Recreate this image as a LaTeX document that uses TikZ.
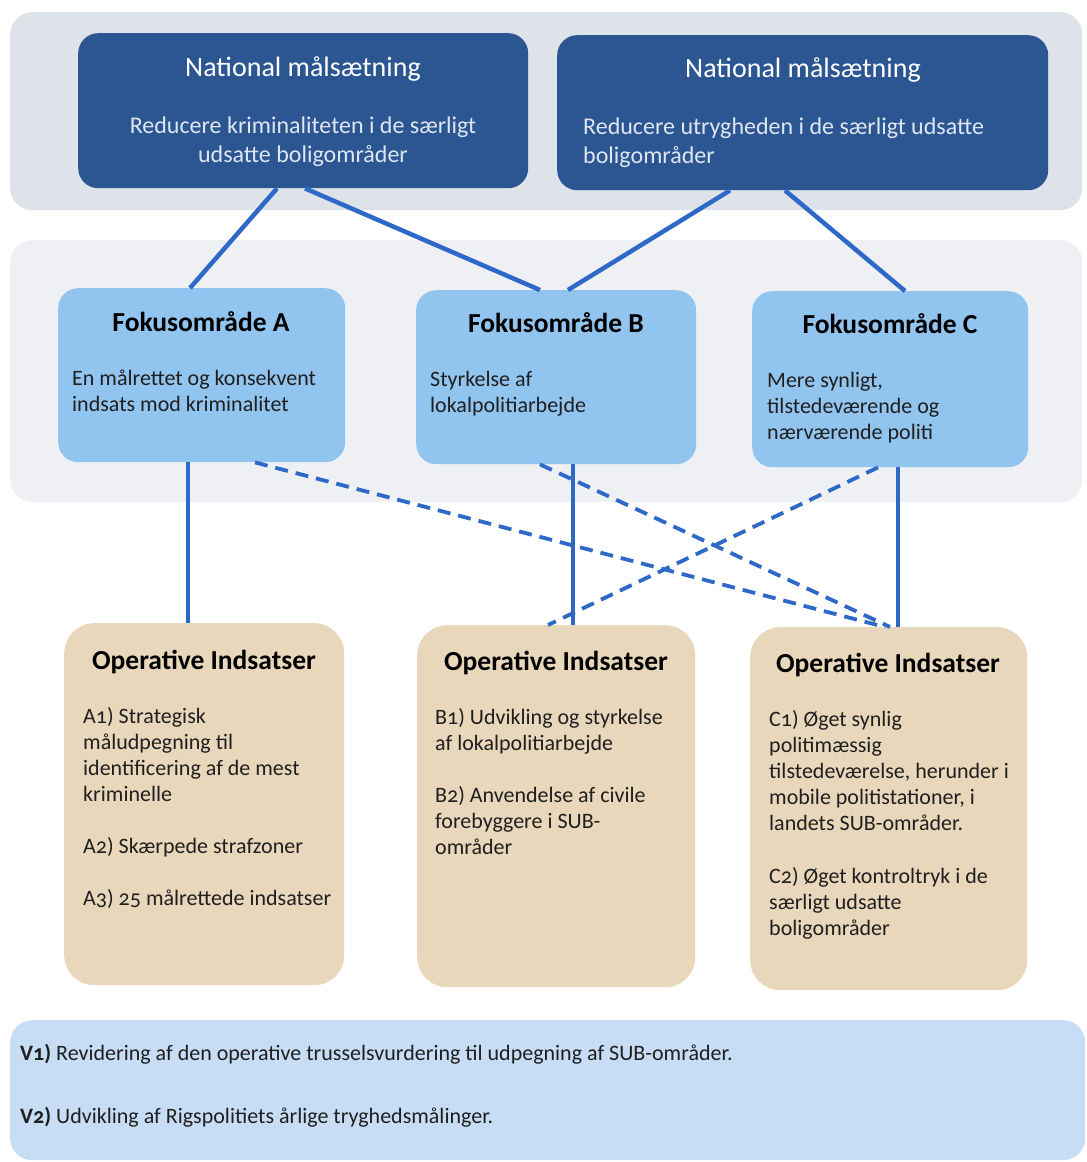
\documentclass[tikz,border=0pt]{standalone}
\usepackage{fontspec}
\setmainfont{Carlito}[Numbers=OldStyle]
\usetikzlibrary{calc}
\definecolor{darkbox}{RGB}{44,86,146}
\definecolor{topband}{RGB}{222,226,233}
\definecolor{midband}{RGB}{238,240,244}
\definecolor{fokusc}{RGB}{146,196,240}
\definecolor{tanc}{RGB}{232,215,187}
\definecolor{botband}{RGB}{199,221,245}
\definecolor{linec}{RGB}{46,104,200}
\definecolor{subtxt}{RGB}{222,230,242}
\tikzset{
  band/.style={rounded corners=22pt, draw=none, anchor=north west, inner sep=0pt},
  natbox/.style={rounded corners=20pt, fill=darkbox, draw=none, anchor=north west, inner sep=0pt},
  fokbox/.style={rounded corners=20pt, fill=fokusc, draw=none, anchor=north west, inner sep=0pt},
  opbox/.style={rounded corners=30pt, fill=tanc, draw=none, anchor=north west, inner sep=0pt},
  nattitle/.style={text=white, font=\fontsize{28}{30}\selectfont, anchor=base, inner sep=0pt},
  natsub/.style={text=subtxt, font=\fontsize{24}{29}\selectfont, inner sep=0pt},
  boxtitle/.style={text=black, font=\fontsize{27.5}{30}\selectfont\bfseries, anchor=base, inner sep=0pt},
  body/.style={text=black!88, font=\fontsize{22}{26}\selectfont, align=left, anchor=base west, inner sep=0pt},
  conn/.style={draw=linec, line width=4.5pt},
  dconn/.style={draw=linec, line width=3.8pt, dash pattern=on 13pt off 8pt},
}
\begin{document}
\begin{tikzpicture}[x=1pt,y=-1pt]
\useasboundingbox (0,0) rectangle (1087,1162);
\fill[white] (0,0) rectangle (1087,1162);
% bands
\node[band, fill=topband, minimum width=1072pt, minimum height=198pt] (bandtop) at (10,12) {};
\node[band, fill=midband, minimum width=1072pt, minimum height=262pt] (bandmid) at (10,240) {};
\node[band, fill=botband, minimum width=1075pt, minimum height=140pt] (bandbot) at (10,1020) {};
% national boxes
\node[natbox, minimum width=450pt, minimum height=155pt] (n1) at (78,33) {};
\node[natbox, minimum width=491pt, minimum height=155pt] (n2) at (557,35) {};
\node[nattitle] (n1t) at (303,76) {National målsætning};
\node[nattitle] (n2t) at (803,77) {National målsætning};
\node[natsub, align=center, anchor=base] (n1s) at (303,162) {Reducere kriminaliteten i de særligt\\udsatte boligområder};
\node[natsub, align=left, anchor=base west] (n2s) at (583,163) {Reducere utrygheden i de særligt udsatte\\boligområder};
% focus boxes
\node[fokbox, minimum width=287pt, minimum height=174pt] (fa) at (58,288) {};
\node[fokbox, minimum width=280pt, minimum height=174pt] (fb) at (416,290) {};
\node[fokbox, minimum width=276pt, minimum height=176pt] (fc) at (752,291) {};
\node[boxtitle] (fat) at (201,331) {Fokusområde A};
\node[boxtitle] (fbt) at (556,332) {Fokusområde B};
\node[boxtitle] (fct) at (890,333) {Fokusområde C};
\node[body] (fab) at (72,411) {En målrettet og konsekvent\\indsats mod kriminalitet};
\node[body] (fbb) at (430,412) {Styrkelse af\\lokalpolitiarbejde};
\node[body] (fcb) at (767,439) {Mere synligt,\\tilstedeværende og\\nærværende politi};
% operative boxes
\node[opbox, minimum width=280pt, minimum height=362pt] (oa) at (64,623) {};
\node[opbox, minimum width=278pt, minimum height=362pt] (ob) at (417,625) {};
\node[opbox, minimum width=277pt, minimum height=363pt] (oc) at (750,627) {};
\node[boxtitle] (oat) at (204,669) {Operative Indsatser};
\node[boxtitle] (obt) at (556,670) {Operative Indsatser};
\node[boxtitle] (oct) at (888,672) {Operative Indsatser};
\node[body] (oab) at (83,905) {A1) Strategisk\\måludpegning til\\identificering af de mest\\kriminelle\\[26pt]A2) Skærpede strafzoner\\[26pt]A3) 25 målrettede indsatser};
\node[body] (obb) at (435,854) {B1) Udvikling og styrkelse\\af lokalpolitiarbejde\\[26pt]B2) Anvendelse af civile\\forebyggere i SUB-\\områder};
\node[body] (ocb) at (769,935) {C1) Øget synlig\\politimæssig\\tilstedeværelse, herunder i\\mobile politistationer, i\\landets SUB-områder.\\[27pt]C2) Øget kontroltryk i de\\særligt udsatte\\boligområder};
% bottom text
\node[body] (v1) at (20,1060) {\textbf{V1)} Revidering af den operative trusselsvurdering til udpegning af SUB-områder.};
\node[body] (v2) at (20,1123) {\textbf{V2)} Udvikling af Rigspolitiets årlige tryghedsmålinger.};
% connectors top
\draw[conn] ([xshift=199pt]n1.south west) -- ([xshift=132pt]fa.north west);
\draw[conn] ([xshift=227pt]n1.south west) -- ([xshift=124pt]fb.north west);
\draw[conn] ([xshift=173pt]n2.south west) -- ([xshift=152pt]fb.north west);
\draw[conn] ([xshift=228pt]n2.south west) -- ([xshift=153pt]fc.north west);
% vertical connectors
\draw[conn] ([xshift=130pt]fa.south west) -- ([xshift=124pt]oa.north west);
\draw[conn] ([xshift=157pt]fb.south west) -- ([xshift=156pt]ob.north west);
\draw[conn] ([xshift=146pt]fc.south west) -- ([xshift=148pt]oc.north west);
% dashed connectors
\draw[dconn] ([xshift=197pt]fa.south west) -- ([xshift=135pt]oc.north west);
\draw[dconn] ([xshift=124pt]fb.south west) -- ([xshift=140pt]oc.north west);
\draw[dconn] ([xshift=126pt]fc.south west) -- ([xshift=131pt]ob.north west);
\end{tikzpicture}
\end{document}
